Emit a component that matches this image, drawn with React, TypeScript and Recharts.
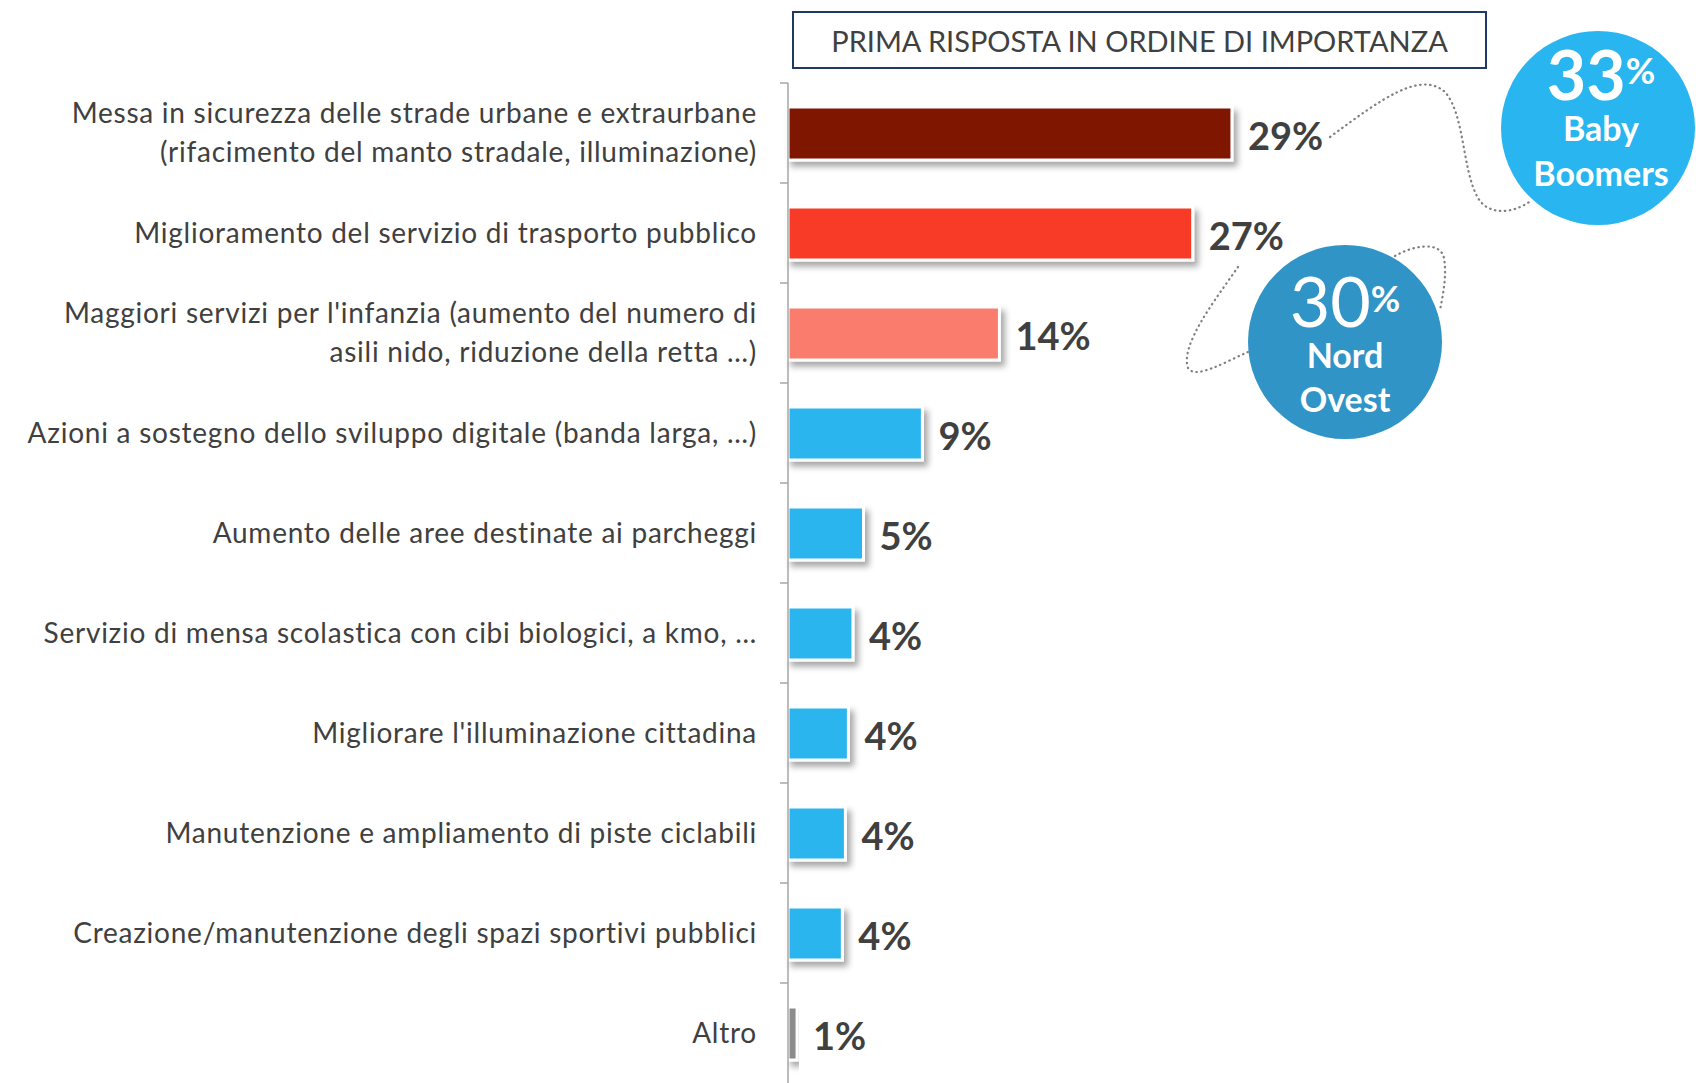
import React from 'react'
import { BarChart, Bar, XAxis, YAxis, Cell, LabelList } from 'recharts'

// categorie (\n = a capo)
const categories = [
  'Messa in sicurezza delle strade urbane e extraurbane\n(rifacimento del manto stradale, illuminazione)',
  'Miglioramento del servizio di trasporto pubblico',
  "Maggiori servizi per l'infanzia (aumento del numero di\nasili nido, riduzione della retta …)",
  'Azioni a sostegno dello sviluppo digitale (banda larga, …)',
  'Aumento delle aree destinate ai parcheggi',
  'Servizio di mensa scolastica con cibi biologici, a kmo, …',
  "Migliorare l'illuminazione cittadina",
  'Manutenzione e ampliamento di piste ciclabili',
  'Creazione/manutenzione degli spazi sportivi pubblici',
  'Altro',
]
const values = [29.4, 26.8, 14.0, 8.9, 5.0, 4.3, 4.0, 3.8, 3.6, 0.6]
const valueLabels = ['29%', '27%', '14%', '9%', '5%', '4%', '4%', '4%', '4%', '1%']
const barColors = [
  '#7f1206', '#f73a25', '#f97c6d', '#2bb5ef', '#2bb5ef',
  '#2bb5ef', '#2bb5ef', '#2bb5ef', '#2bb5ef', '#8c8c8c',
]

const data = categories.map((name, i) => ({ name, value: values[i], label: valueLabels[i] }))

const W = 1696
const H = 1083
const margin = { top: 83, right: 304, bottom: 0, left: 0 }
const band = (H - margin.top - margin.bottom) / categories.length
const font = 'Lato, "Open Sans", sans-serif'

const CategoryTick = (props: any) => {
  const { x, y, payload } = props
  const lines = String(payload.value).split('\n')
  const lh = 39
  const y0 = y - ((lines.length - 1) * lh) / 2
  return (
    <g>
      <line x1={x + 23} x2={x + 31} y1={y - band / 2} y2={y - band / 2} stroke='#a6a6a6' strokeWidth={1.5} />
      <text x={x} y={y0} textAnchor='end' fill='#404040' fontFamily={font} fontSize={28} letterSpacing={0.75}>
        {lines.map((l, i) => (
          <tspan key={i} x={x} y={y0 + i * lh} dy='0.35em'>{l}</tspan>
        ))}
      </text>
    </g>
  )
}

const ShadowBar = (props: any) => {
  const { x, y, width, height, fill } = props
  return <rect x={x} y={y} width={width} height={height} fill={fill} stroke='#ffffff' strokeWidth={3} filter='url(#barShadow)' />
}

const ValueLabel = (props: any) => {
  const { x, y, width, height, value } = props
  return (
    <text x={x + width + 16} y={y + height / 2 + 3} dy='0.36em' fontFamily={font} fontWeight={700} fontSize={38} fill='#404040'>
      {value}
    </text>
  )
}

const App = () => {
  return (
    <div style={{ position: 'absolute', left: 0, top: 0, width: W, height: H, background: '#fff', overflow: 'hidden' }}>
      <BarChart width={W} height={H} data={data} layout='vertical' margin={margin}>
        <XAxis type='number' domain={[0, 40]} hide />
        <YAxis
          type='category'
          dataKey='name'
          width={788}
          interval={0}
          tickSize={8}
          tickMargin={23}
          tickLine={false}
          axisLine={{ stroke: '#a6a6a6', strokeWidth: 1.5 }}
          tick={<CategoryTick />}
        />
        <Bar dataKey='value' barSize={53} isAnimationActive={false} shape={<ShadowBar />}>
          {data.map((d, i) => (
            <Cell key={d.name} fill={barColors[i]} />
          ))}
          <LabelList dataKey='label' content={<ValueLabel />} />
        </Bar>
      </BarChart>

      {/* titolo */}
      <div
        style={{
          position: 'absolute', left: 792, top: 11, width: 691, height: 54,
          border: '2px solid #1f3864', display: 'flex', alignItems: 'center', justifyContent: 'center',
          fontFamily: font, fontSize: 29, color: '#404040', background: '#fff',
        }}
      >
        PRIMA RISPOSTA IN ORDINE DI IMPORTANZA
      </div>

      {/* bolle e linee tratteggiate */}
      <svg width={W} height={H} style={{ position: 'absolute', left: 0, top: 0, pointerEvents: 'none' }}>
        <defs>
          <filter id='barShadow' x='-10%' y='-30%' width='130%' height='180%'>
            <feDropShadow dx={4} dy={5} stdDeviation={3} floodColor='#000' floodOpacity={0.35} />
          </filter>
        </defs>
        <g fill='none' stroke='#7f7f7f' strokeWidth={2.2} strokeDasharray='0.5 4.5' strokeLinecap='round'>
          <path d='M1330,137 C1380,100 1420,70 1445,92 C1465,115 1462,170 1478,198 C1488,215 1512,215 1532,200' />
          <path d='M1238,267 C1215,300 1180,345 1188,368 C1195,380 1225,362 1248,352' />
          <path d='M1395,256 C1412,246 1440,240 1444,258 C1447,275 1443,295 1440,310' />
        </g>

        <circle cx={1598} cy={128} r={97} fill='#29b5ef' />
        <text x={1601} y={100} textAnchor='middle' fill='#fff' fontFamily={font}>
          <tspan fontSize={68} fontWeight={700}>33</tspan>
          <tspan fontSize={36} fontWeight={700} dy={-16}>%</tspan>
        </text>
        <text x={1601} y={141} textAnchor='middle' fill='#fff' fontFamily={font} fontSize={34} fontWeight={700}>Baby</text>
        <text x={1601} y={186} textAnchor='middle' fill='#fff' fontFamily={font} fontSize={34} fontWeight={700}>Boomers</text>

        <circle cx={1345} cy={342} r={97} fill='#3194c6' />
        <text x={1345} y={327} textAnchor='middle' fill='#fff' fontFamily={font}>
          <tspan fontSize={70} fontWeight={400}>30</tspan>
          <tspan fontSize={36} fontWeight={700} dy={-15}>%</tspan>
        </text>
        <text x={1345} y={368} textAnchor='middle' fill='#fff' fontFamily={font} fontSize={34} fontWeight={700}>Nord</text>
        <text x={1345} y={412} textAnchor='middle' fill='#fff' fontFamily={font} fontSize={34} fontWeight={700}>Ovest</text>
      </svg>
    </div>
  )
}

export default App
